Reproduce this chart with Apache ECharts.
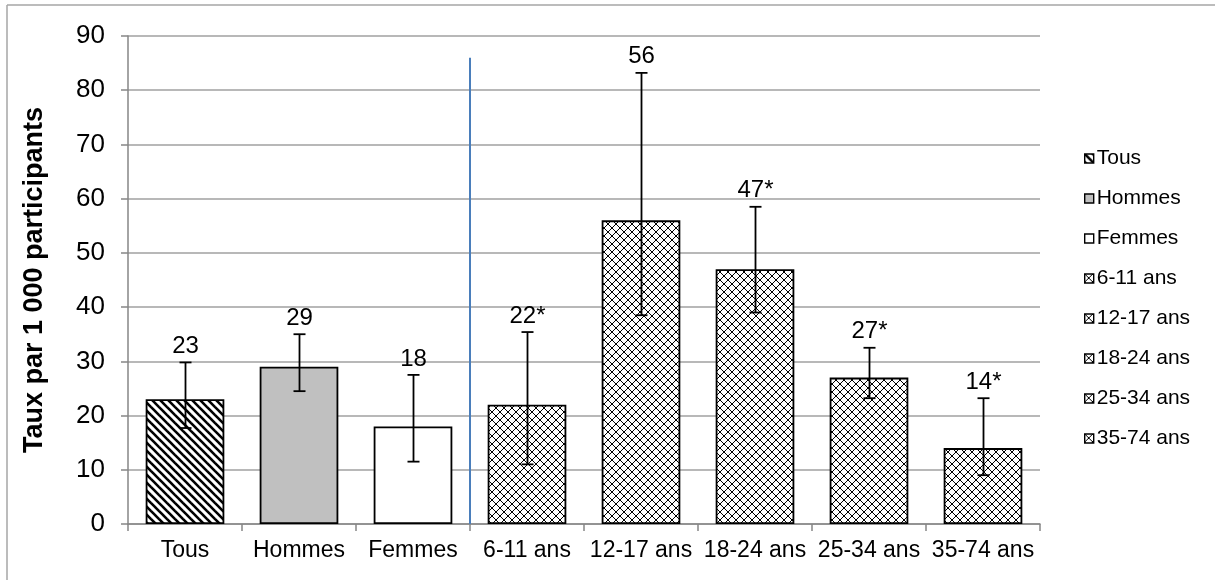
<!DOCTYPE html>
<html>
<head>
<meta charset="utf-8">
<script src="https://cdn.jsdelivr.net/npm/echarts@6/dist/echarts.min.js"></script>
<style>
  html, body { margin: 0; padding: 0; background: #fff; }
  #chart { width: 1215px; height: 580px; }
</style>
</head>
<body>
<div id="chart"></div>
<script>
// données
const categories = ['Tous', 'Hommes', 'Femmes', '6-11 ans', '12-17 ans', '18-24 ans', '25-34 ans', '35-74 ans']
const values = [23, 29, 18, 22, 56, 47, 27, 14]
const ciLow = [17.7, 24.5, 11.5, 11, 38.5, 39, 23.2, 9]
const ciHigh = [29.8, 35, 27.5, 35.4, 83.2, 58.5, 32.5, 23.2]
const labels = ['23', '29', '18', '22*', '56', '47*', '27*', '14*']
const yTicks = [0, 10, 20, 30, 40, 50, 60, 70, 80, 90]
const separatorTop = 86

function makePattern(kind) {
  const c = document.createElement('canvas')
  c.width = 8
  c.height = 8
  const ctx = c.getContext('2d')
  ctx.fillStyle = '#fff'
  ctx.fillRect(0, 0, 8, 8)
  ctx.strokeStyle = '#000'
  if (kind === 'stripes') {
    ctx.lineWidth = 2.6
    for (let o = -8; o <= 8; o += 8) {
      ctx.beginPath()
      ctx.moveTo(o - 2, -2)
      ctx.lineTo(o + 10, 10)
      ctx.stroke()
    }
  } else {
    ctx.lineWidth = 1
    ctx.beginPath()
    ctx.moveTo(0, 0); ctx.lineTo(8, 8)
    ctx.moveTo(8, 0); ctx.lineTo(0, 8)
    ctx.stroke()
  }
  return { image: c, repeat: 'repeat' }
}

const stripes = makePattern('stripes')
const cross = makePattern('cross')
const fills = [stripes, '#c0c0c0', '#ffffff', cross, cross, cross, cross, cross]

const chart = echarts.init(document.getElementById('chart'))

const barSeries = categories.map((name, i) => ({
  name: name,
  type: 'bar',
  stack: 'all',
  barWidth: '69%',
  silent: true,
  itemStyle: { color: fills[i], borderColor: '#000', borderWidth: 1.8 },
  data: categories.map((c, j) => (j === i ? values[j] : '-'))
}))

const errorData = categories.map((c, i) => [i, ciLow[i], ciHigh[i]])

const option = {
  animation: false,
  graphic: [
    { type: 'line', shape: { x1: 7, y1: 5, x2: 1215, y2: 5 }, style: { stroke: '#a6a6a6', lineWidth: 1.5 } },
    { type: 'line', shape: { x1: 7, y1: 5, x2: 7, y2: 580 }, style: { stroke: '#a6a6a6', lineWidth: 1.5 } }
  ],
  grid: { left: 128, right: 175, top: 36, bottom: 56 },
  legend: {
    orient: 'vertical',
    left: 1079,
    top: 143,
    itemGap: 19,
    itemWidth: 9,
    itemHeight: 9,
    icon: 'rect',
    textStyle: { fontFamily: 'Liberation Sans', fontSize: 21, lineHeight: 20, color: '#000', padding: [0, 0, 0, -2] },
    itemStyle: { borderColor: '#000', borderWidth: 1.4 },
    data: categories
  },
  xAxis: [
    {
      type: 'category',
      data: categories,
      axisLine: { lineStyle: { color: '#868686', width: 1.5 } },
      axisTick: { show: true, length: 7, lineStyle: { color: '#868686', width: 1.5 } },
      axisLabel: { interval: 0, fontFamily: 'Liberation Sans', fontSize: 23, color: '#000', margin: 15 },
      splitLine: { show: false }
    },
    { type: 'value', min: 0, max: categories.length, show: false }
  ],
  yAxis: {
    type: 'value',
    min: 0,
    max: 90,
    interval: 10,
    name: 'Taux par 1 000 participants',
    nameLocation: 'middle',
    nameGap: 80,
    nameTextStyle: { fontFamily: 'Liberation Sans', fontSize: 27, fontWeight: 'bold', color: '#000' },
    axisLine: { show: true, lineStyle: { color: '#868686', width: 1.5 } },
    axisTick: { show: true, length: 7, lineStyle: { color: '#868686', width: 1.5 } },
    axisLabel: {
      fontFamily: 'Liberation Sans', fontSize: 26, color: '#000', margin: 23,
      formatter: v => (yTicks.indexOf(v) >= 0 ? String(v) : '')
    },
    splitLine: { lineStyle: { color: '#a0a0a0', width: 1.5 } }
  },
  series: barSeries.concat([
    {
      type: 'custom',
      name: 'ci',
      silent: true,
      z: 5,
      data: errorData,
      renderItem: function (params, api) {
        const x = api.value(0)
        const lo = api.coord([x, api.value(1)])
        const hi = api.coord([x, api.value(2)])
        const cx = Math.round(lo[0]) + 0.5
        const half = 6
        const st = { stroke: '#000', lineWidth: 1.8 }
        return {
          type: 'group',
          children: [
            { type: 'line', shape: { x1: cx, y1: hi[1], x2: cx, y2: lo[1] }, style: st },
            { type: 'line', shape: { x1: cx - half, y1: hi[1], x2: cx + half, y2: hi[1] }, style: st },
            { type: 'line', shape: { x1: cx - half, y1: lo[1], x2: cx + half, y2: lo[1] }, style: st },
            {
              type: 'text',
              style: {
                x: cx, y: hi[1] - 4, text: labels[params.dataIndex],
                align: 'center', verticalAlign: 'bottom',
                fontFamily: 'Liberation Sans', fontSize: 24, fill: '#000'
              }
            }
          ]
        }
      }
    },
    {
      type: 'line',
      name: 'separator',
      xAxisIndex: 1,
      silent: true,
      symbol: 'none',
      lineStyle: { color: '#4a7ebb', width: 2 },
      data: [[3, 0], [3, separatorTop]]
    }
  ])
}

chart.setOption(option)
</script>
</body>
</html>
